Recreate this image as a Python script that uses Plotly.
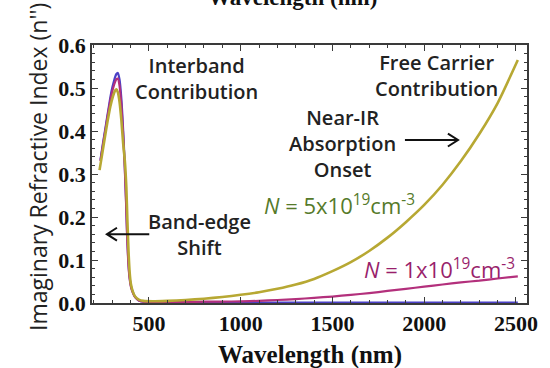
import plotly.graph_objects as go

# Imaginary refractive index k(λ) for three carrier densities
wl_undoped = [236, 250, 265, 280, 295, 310, 322, 331, 340, 350, 360, 368, 375, 381, 387, 394, 402, 412, 425, 445,
              470, 520, 600, 700, 800, 900, 1000, 1200, 1400, 1600, 1800, 2000, 2200, 2400, 2510]
k_undoped = [0.333, 0.372, 0.412, 0.452, 0.490, 0.517, 0.532, 0.535, 0.520, 0.475, 0.400, 0.325, 0.245, 0.165, 0.105,
             0.064, 0.040, 0.026, 0.014, 0.006, 0.003, 0.002, 0.001, 0.001, 0.001, 0.001, 0.001, 0.001, 0.001, 0.001,
             0.001, 0.001, 0.001, 0.001, 0.001]

wl_n1 = [236, 250, 265, 280, 295, 310, 322, 331, 340, 350, 360, 368, 375, 381, 387, 394, 402, 412, 425, 445, 470, 520,
         600, 700, 800, 900, 1000, 1100, 1200, 1300, 1400, 1500, 1600, 1700, 1800, 1900, 2000, 2100, 2200, 2300, 2400,
         2510]
k_n1 = [0.330, 0.368, 0.408, 0.447, 0.482, 0.507, 0.520, 0.522, 0.505, 0.460, 0.390, 0.320, 0.240, 0.160, 0.100,
        0.060, 0.038, 0.024, 0.013, 0.006, 0.003, 0.002, 0.002, 0.002, 0.003, 0.003, 0.004, 0.005, 0.007, 0.009,
        0.012, 0.015, 0.019, 0.023, 0.028, 0.033, 0.038, 0.043, 0.048, 0.052, 0.057, 0.062]

wl_n5 = [231, 245, 260, 275, 290, 305, 316, 323, 331, 340, 350, 360, 369, 377, 383, 389, 395, 402, 412, 425, 445, 470,
         520, 600, 700, 800, 900, 1000, 1100, 1200, 1300, 1400, 1500, 1600, 1700, 1800, 1900, 2000, 2100, 2200, 2300,
         2400, 2510]
k_n5 = [0.309, 0.345, 0.385, 0.423, 0.457, 0.482, 0.494, 0.497, 0.490, 0.468, 0.425, 0.370, 0.330, 0.270, 0.190,
        0.120, 0.072, 0.044, 0.027, 0.015, 0.008, 0.005, 0.004, 0.005, 0.007, 0.010, 0.014, 0.019, 0.025, 0.033,
        0.043, 0.056, 0.074, 0.095, 0.121, 0.152, 0.188, 0.228, 0.275, 0.330, 0.393, 0.465, 0.565]

x_ticks = [500, 1000, 1500, 2000, 2500]
y_ticks = [0.0, 0.1, 0.2, 0.3, 0.4, 0.5, 0.6]

X_RANGE = [190, 2560]
Y_RANGE = [0, 0.6]

BLUE = "#4b40c6"
MAGENTA = "#b3307c"
OLIVE = "#b7a833"

fig = go.Figure()
for wl, k, color, width, name in [
    (wl_undoped, k_undoped, BLUE, 2.2, "undoped"),
    (wl_n1, k_n1, MAGENTA, 2.2, "N = 1x10^19 cm^-3"),
    (wl_n5, k_n5, OLIVE, 2.6, "N = 5x10^19 cm^-3"),
]:
    fig.add_trace(go.Scatter(x=wl, y=k, mode="lines", name=name,
                             line=dict(color=color, width=width, shape="spline", smoothing=0.6)))

sans = "Open Sans"
serif = "Liberation Serif"
dark = "#222222"

label_font = dict(family=sans, size=20, color=dark, weight=600)

notes = [
    (760, 0.521, "Interband<br>Contribution"),
    (2065, 0.528, "Free Carrier<br>Contribution"),
    (1555, 0.372, "Near-IR<br>Absorption<br>Onset"),
    (775, 0.160, "Band-edge<br>Shift"),
]
for x, y, txt in notes:
    fig.add_annotation(x=x, y=y, text=txt, showarrow=False, font=label_font, align="center")

fig.add_annotation(x=1540, y=0.228, showarrow=False,
                   text="<i>N</i> = 5x10<sup>19</sup>cm<sup>-3</sup>",
                   font=dict(family=sans, size=22, color="#557a2a"))
fig.add_annotation(x=2085, y=0.081, showarrow=False,
                   text="<i>N</i> = 1x10<sup>19</sup>cm<sup>-3</sup>",
                   font=dict(family=sans, size=22, color="#991f6c"))

# open-headed arrows drawn as paths
def arrow(x0, x1, y, head_dx=55, head_dy=0.015):
    d = 1 if x1 > x0 else -1
    path = (f"M {x0},{y} L {x1},{y} "
            f"M {x1 - d * head_dx},{y + head_dy} L {x1},{y} L {x1 - d * head_dx},{y - head_dy}")
    fig.add_shape(type="path", path=path, xref="x", yref="y",
                  line=dict(color="#111111", width=2))

arrow(1895, 2184, 0.379)
arrow(502, 271, 0.160)

# axis titles
fig.add_annotation(xref="paper", yref="paper", x=0.5, y=-0.20, yanchor="middle",
                   text="<b>Wavelength (nm)</b>", showarrow=False,
                   font=dict(family=serif, size=25, color="#111111"))
fig.add_annotation(xref="paper", yref="paper", x=0.46, y=1.128, yanchor="bottom",
                   text="<b>Wavelength (nm)</b>", showarrow=False,
                   font=dict(family=serif, size=23, color="#111111"))
fig.add_annotation(xref="paper", yref="paper", x=(19 - 92) / 441, y=(303 - 167) / 258,
                   text="Imaginary Refractive Index (n'')", showarrow=False, textangle=-90,
                   font=dict(family=sans, size=23, color=dark))

axis_common = dict(showline=True, mirror="allticks", linecolor="#3a3a3a", linewidth=1.5,
                   ticks="inside", ticklen=6, tickwidth=1.2, tickcolor="#3a3a3a",
                   showgrid=False, zeroline=False,
                   tickfont=dict(family=serif, size=22, color="#111111", weight="bold"))

fig.update_xaxes(range=X_RANGE, tickvals=x_ticks, ticktext=[str(v) for v in x_ticks],
                 minor=dict(dtick=100, tick0=0, ticks="inside", ticklen=3, tickcolor="#3a3a3a"),
                 **axis_common)
fig.update_yaxes(range=Y_RANGE, tickvals=y_ticks, ticktext=[f"{v:.1f}" for v in y_ticks],
                 minor=dict(dtick=0.02, tick0=0, ticks="inside", ticklen=3, tickcolor="#3a3a3a"),
                 **axis_common)

fig.update_layout(width=550, height=368, showlegend=False,
                  margin=dict(l=92, r=17, t=45, b=65),
                  paper_bgcolor="white", plot_bgcolor="white")

fig.write_html("out.html")
